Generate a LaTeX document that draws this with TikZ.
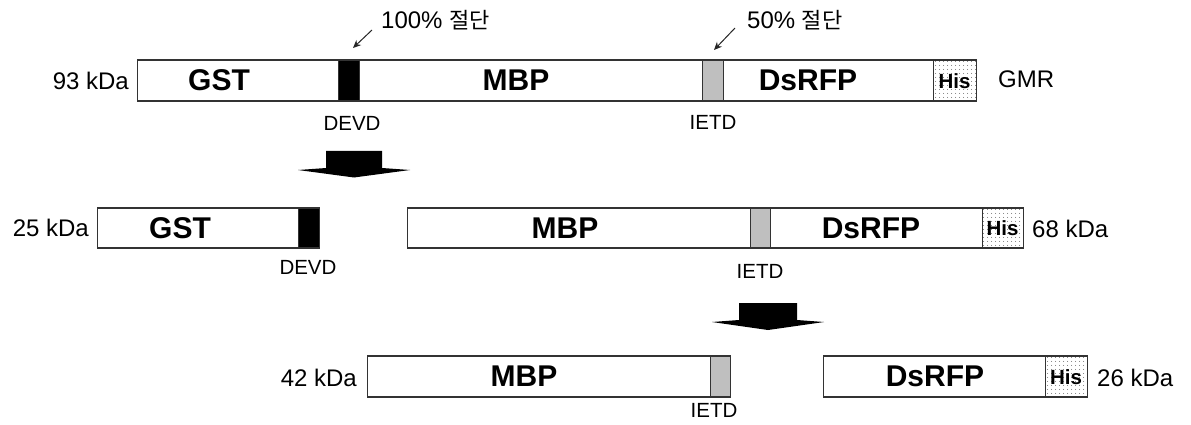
\documentclass[tikz,border=0pt]{standalone}
\usepackage{fontspec}
\setmainfont{Liberation Sans}
\newfontfamily\kr{Noto Sans CJK KR}
\usetikzlibrary{patterns.meta,arrows.meta}
\begin{document}
\begin{tikzpicture}[x=1pt,y=-1pt,
  seg/.style={draw=black!80,line width=1.1pt,fill=white,inner sep=0pt,anchor=west,minimum height=41},
  blk/.style={seg,fill=black},
  gry/.style={seg,fill=black!25},
  his/.style={seg,pattern={Dots[distance=4pt,radius=0.55pt]},pattern color=black!80},
  big/.style={font=\fontsize{30}{31}\selectfont\bfseries,inner sep=0pt},
  hislab/.style={font=\fontsize{20.5}{21}\selectfont\bfseries,inner sep=0pt},
  kda/.style={font=\fontsize{24}{26}\selectfont,inner sep=0pt},
  site/.style={font=\fontsize{20.5}{22}\selectfont,inner sep=0pt},
  cut/.style={-{Stealth[length=8pt,width=7pt]},line width=1pt,black!85},
  barrow/.style={fill=black,draw=none}]
\useasboundingbox (0,0) rectangle (1191,425);
% ---------- row 1 ----------
\node[seg,minimum width=201] (a1) at (137,80.5) {};
\node[blk,minimum width=21] (a2) at (338,80.5) {};
\node[seg,minimum width=343] (a3) at (359,80.5) {};
\node[gry,minimum width=21] (a4) at (702,80.5) {};
\node[seg,minimum width=210] (a5) at (723,80.5) {};
\node[his,minimum width=43] (a6) at (933,80.5) {};
\node[big] (l1) at (219,80.5) {GST};
\node[big] (l2) at (516,80.5) {MBP};
\node[big] (l3) at (808,80.5) {DsRFP};
\node[hislab] (l4) at (954.5,81) {His};
\node[kda,anchor=east] (k1) at (129,80.5) {93 kDa};
\node[kda,anchor=west] (g1) at (998,79) {GMR};
\node[site] (d1) at (352,123) {DEVD};
\node[site] (i1) at (713,122) {IETD};
\node[kda,anchor=west] (t1) at (381,20) {100\% {\kr\fontsize{22}{24}\selectfont 절단}};
\node[kda,anchor=west] (t2) at (747,20) {50\% {\kr\fontsize{22}{24}\selectfont 절단}};
\coordinate (s1) at (372,30); \coordinate (e1) at (353,48);
\coordinate (s2) at (735,28); \coordinate (e2) at (714,50);
\draw[cut] (s1) -- (e1);
\draw[cut] (s2) -- (e2);
% ---------- block arrow 1 ----------
\fill[barrow] (326,151) -- (382,151) -- (382,168) -- (410,170) -- (354,177.5) -- (298,170) -- (326,168) -- cycle;
% ---------- row 2 ----------
\node[seg,minimum width=201,minimum height=40] (b1) at (97,228) {};
\node[blk,minimum width=21,minimum height=40] (b2) at (298,228) {};
\node[big] (m1) at (180,228) {GST};
\node[kda,anchor=east] (k2) at (89,228) {25 kDa};
\node[site] (d2) at (308,267) {DEVD};
\node[seg,minimum width=343,minimum height=40] (c1) at (407,228) {};
\node[gry,minimum width=20,minimum height=40] (c2) at (750,228) {};
\node[seg,minimum width=212,minimum height=40] (c3) at (770,228) {};
\node[his,minimum width=41,minimum height=40] (c4) at (982,228) {};
\node[big] (m2) at (565,228) {MBP};
\node[big] (m3) at (871,228) {DsRFP};
\node[hislab] (m4) at (1002.5,228.5) {His};
\node[kda,anchor=west] (k3) at (1032,229) {68 kDa};
\node[site] (i2) at (760,271) {IETD};
% ---------- block arrow 2 ----------
\fill[barrow] (739,303) -- (797,303) -- (797,320) -- (824,322) -- (768,330) -- (712,322) -- (739,320) -- cycle;
% ---------- row 3 ----------
\node[seg,minimum width=343] (e1b) at (367,376.5) {};
\node[gry,minimum width=20] (e2b) at (710,376.5) {};
\node[big] (n1) at (524,376.5) {MBP};
\node[kda,anchor=east] (k4) at (357,378) {42 kDa};
\node[site] (i3) at (714,410) {IETD};
\node[seg,minimum width=222] (f1) at (823,376.5) {};
\node[his,minimum width=42] (f2) at (1045,376.5) {};
\node[big] (n2) at (935,376.5) {DsRFP};
\node[hislab] (n3) at (1066,377) {His};
\node[kda,anchor=west] (k5) at (1097,378) {26 kDa};
\end{tikzpicture}
\end{document}
